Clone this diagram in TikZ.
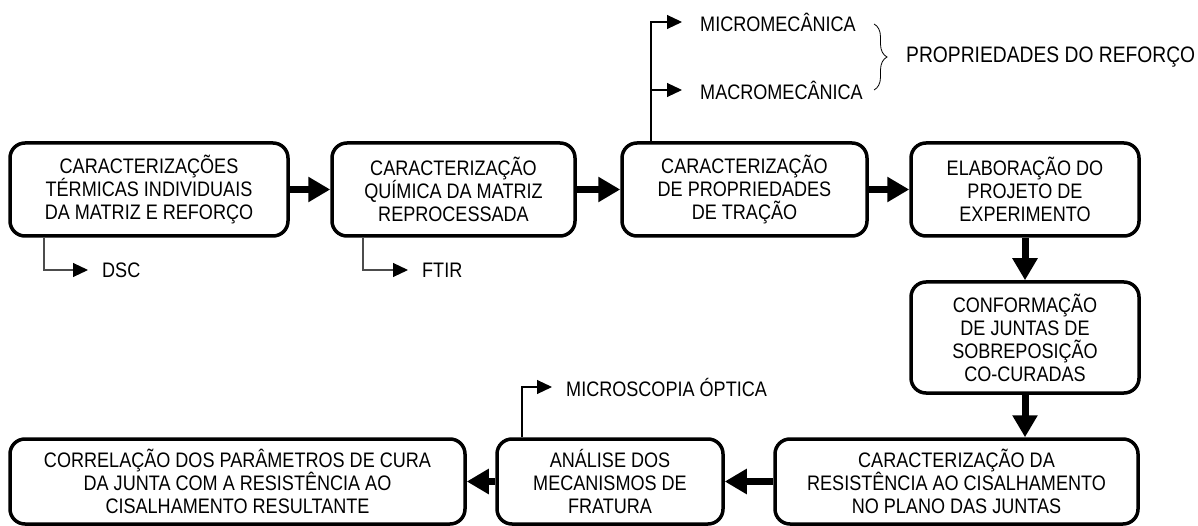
\documentclass[tikz,border=0pt]{standalone}
\usepackage{fontspec}
\setmainfont{Liberation Sans}[FakeStretch=0.86]
\usetikzlibrary{arrows.meta,positioning,calc,decorations.pathreplacing}
\colorlet{penColor}{black}
\colorlet{branchColor}{black!70}
\tikzset{>=stealth}
\tikzset{
  stepbox/.style={draw=penColor, line width=3.5pt, rounded corners=15pt, align=center,
    inner sep=0pt, font=\fontsize{21}{23}\selectfont},
  flow/.style={penColor, line width=7pt, -{Triangle[length=22pt,width=24pt]}},
  branch/.style={line width=1.1pt, -{Triangle[length=15pt,width=14pt,color=penColor]}},
  lbl/.style={anchor=west, inner xsep=14pt, inner ysep=0pt, font=\fontsize{21}{23}\selectfont},
}

\begin{document}
\begin{tikzpicture}[x=1pt,y=-1pt]
		\useasboundingbox (0,0) rectangle (1198,526);
		% top row
		\node[stepbox, minimum width=278pt, minimum height=93pt] (b1) at (149,189.5) {CARACTERIZAÇÕES\\TÉRMICAS INDIVIDUAIS\\DA MATRIZ E REFORÇO};
		\node[stepbox, minimum width=243pt, minimum height=93pt] (b2) at (453.5,189.5) {CARACTERIZAÇÃO\\QUÍMICA DA MATRIZ\\REPROCESSADA};
		\node[stepbox, minimum width=245pt, minimum height=93pt] (b3) at (744.5,189.5) {CARACTERIZAÇÃO\\DE PROPRIEDADES\\DE TRAÇÃO};
		\node[stepbox, minimum width=228pt, minimum height=93pt] (b4) at (1025,189.5) {ELABORAÇÃO DO\\PROJETO DE\\EXPERIMENTO};
		\node[stepbox, minimum width=228pt, minimum height=111pt] (b5) at (1025,337.5) {CONFORMAÇÃO\\DE JUNTAS DE\\SOBREPOSIÇÃO\\CO-CURADAS};
		% bottom row
		\node[stepbox, minimum width=363pt, minimum height=85pt] (b6) at (956.5,481.5) {CARACTERIZAÇÃO DA\\RESISTÊNCIA AO CISALHAMENTO\\NO PLANO DAS JUNTAS};
		\node[stepbox, minimum width=226pt, minimum height=85pt] (b7) at (610,481.5) {ANÁLISE DOS\\MECANISMOS DE\\FRATURA};
		\node[stepbox, minimum width=455pt, minimum height=85pt] (b8) at (237.5,481.5) {CORRELAÇÃO DOS PARÂMETROS DE CURA\\DA JUNTA COM A RESISTÊNCIA AO\\CISALHAMENTO RESULTANTE};
		
		\draw[flow] (b1) -- (b2);
		\draw[flow] (b2) -- (b3);
		\draw[flow] (b3) -- (b4);
		\draw[flow] (b4) -- (b5);
		\draw[flow] (b5.south) -- (b5.south |- b6.north);
		\draw[flow] (b6) -- (b7);
		\draw[flow] (b7) -- (b8);
		
		% side results
		\node[lbl] (dsc) at (88,270) {DSC};
		\node[lbl] (ftir) at (408,270) {FTIR};
		\node[lbl, inner xsep=18pt] (micro) at (682,22) {MICROMECÂNICA};
		\node[lbl, inner xsep=18pt] (macro) at (682,90) {MACROMECÂNICA};
		\node[lbl] (mo) at (552,387) {MICROSCOPIA ÓPTICA};
		\node[lbl, inner xsep=0pt, font=\fontsize{22.4}{24}\selectfont] (prop) at (906,57) {PROPRIEDADES DO REFORÇO};
		\coordinate (c1) at (44,0);
		\coordinate (c2) at (363,0);
		\coordinate (c3) at (651,0);
		\coordinate (c7) at (522,0);
		
		\draw[branch, branchColor] (c1 |- b1.south) |- (dsc.west);
		\draw[branch, branchColor] (c2 |- b2.south) |- (ftir.west);
		\draw[branch, penColor] (c3 |- b3.north) |- (micro.west);
		\draw[branch, penColor] (c3 |- macro) -- (macro.west);
		\draw[branch, penColor] (c7 |- b7.north) |- (mo.west);
		\draw[penColor, line width=0.8pt, decorate, decoration={brace, amplitude=13pt}] (874,24) -- (874,90);% brace
		
		\end{tikzpicture}
\end{document}
